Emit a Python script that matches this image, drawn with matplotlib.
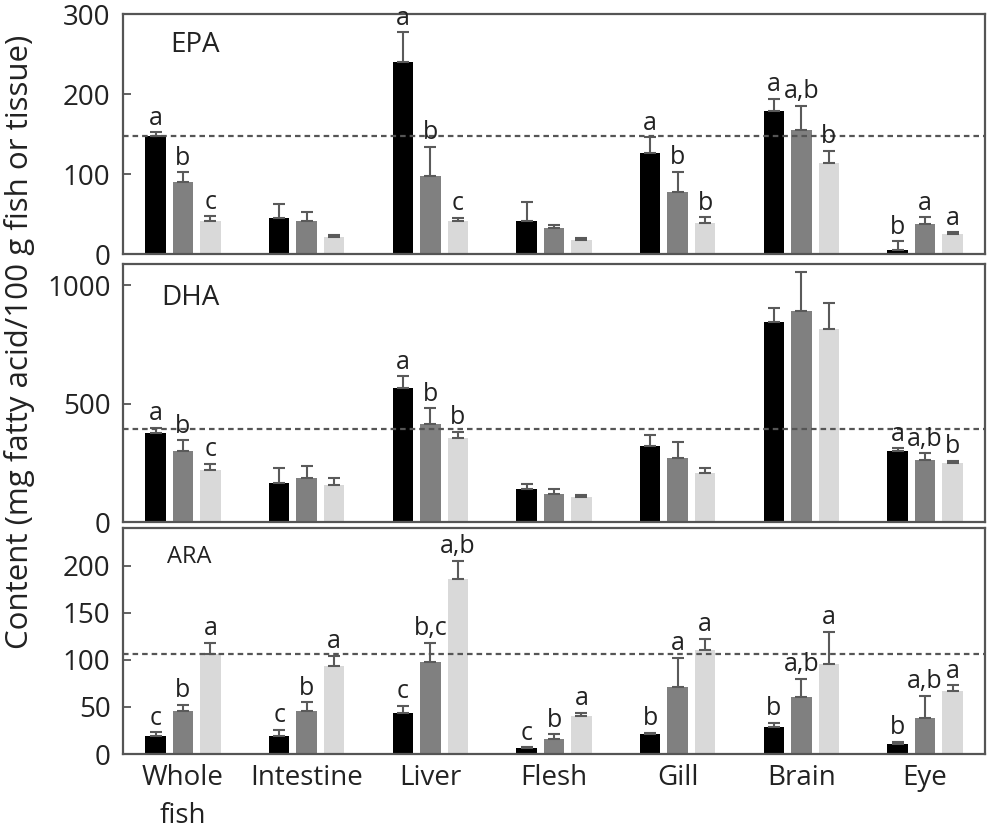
import numpy as np
import matplotlib.pyplot as plt

plt.rcParams['font.family'] = ['Open Sans', 'DejaVu Sans']

tissues = ['Whole\nfish', 'Intestine', 'Liver', 'Flesh', 'Gill', 'Brain', 'Eye']

# EPA
epa_black = [147, 45, 240, 41, 126, 179, 5]
epa_gray = [90, 41, 97, 32, 77, 155, 38]
epa_light = [41, 21, 41, 17, 39, 114, 25]
epa_black_err = [5, 18, 37, 24, 20, 15, 11]
epa_gray_err = [12, 11, 37, 4, 26, 30, 8]
epa_light_err = [6, 3, 4, 3, 7, 15, 2]
epa_black_lab = ['a', '', 'a', '', 'a', 'a', 'b']
epa_gray_lab = ['b', '', 'b', '', 'b', 'a,b', 'a']
epa_light_lab = ['c', '', 'c', '', 'b', 'b', 'a']
epa_ref = 147

# DHA
dha_black = [377, 163, 564, 140, 322, 845, 300]
dha_gray = [302, 187, 412, 117, 269, 892, 262]
dha_light = [219, 155, 353, 104, 205, 817, 248]
dha_black_err = [20, 66, 52, 20, 46, 57, 11]
dha_gray_err = [43, 49, 68, 21, 68, 164, 28]
dha_light_err = [26, 29, 28, 10, 24, 110, 11]
dha_black_lab = ['a', '', 'a', '', '', '', 'a']
dha_gray_lab = ['b', '', 'b', '', '', '', 'a,b']
dha_light_lab = ['c', '', 'b', '', '', '', 'b']
dha_ref = 394

# ARA
ara_black = [19, 19, 44, 6, 21, 29, 11]
ara_gray = [46, 46, 98, 16, 71, 61, 38]
ara_light = [106, 93, 186, 40, 110, 96, 67]
ara_black_err = [4, 7, 7, 1, 1.5, 4, 2]
ara_gray_err = [6, 9, 20, 5, 31, 19, 24]
ara_light_err = [12, 11, 19, 4, 12, 34, 6]
ara_black_lab = ['c', 'c', 'c', 'c', 'b', 'b', 'b']
ara_gray_lab = ['b', 'b', 'b,c', 'b', 'a', 'a,b', 'a,b']
ara_light_lab = ['a', 'a', 'a,b', 'a', 'a', 'a', 'a']
ara_ref = 106

colors = ['#000000', '#808080', '#d9d9d9']
offsets = [-0.222, 0, 0.222]
width = 0.165
x = np.arange(len(tissues))


def panel(ax, vals, errs, labs, ref, name, ymax, yticks, namesize, namex):
	for v, e, l, c, o in zip(vals, errs, labs, colors, offsets):
		e = np.array(e)
		ax.bar(x + o, v, width, color=c, yerr=[np.zeros_like(e), e],
			error_kw=dict(ecolor='#5a5a5a', elinewidth=1.5, capsize=4, capthick=1.5), zorder=2)
		for xi, vi, ei, li in zip(x, v, e, l):
			if li:
				ax.annotate(li, (xi + o, vi + ei), xytext=(0, 5.5), textcoords='offset points',
					ha='center', va='baseline', fontsize=18, color='#222222', zorder=4)
	ax.axhline(ref, color='#555555', lw=1.6, ls=(0, (2.5, 1.8)), zorder=3)
	ax.set_xlim(-0.485, 6.485)
	ax.set_ylim(0, ymax)
	ax.set_yticks(yticks)
	ax.tick_params(axis='y', direction='in', length=6, width=1.3, color='#555555',
		labelsize=20, pad=9, labelcolor='#222222')
	ax.tick_params(axis='x', length=0)
	for s in ax.spines.values():
		s.set_color('#555555')
		s.set_linewidth(1.6)
	ax.text(namex, 0.87, name, transform=ax.transAxes, fontsize=namesize, color='#222222',
		va='center', ha='left')


fig = plt.figure(figsize=(9.96, 8.34), dpi=100)
ax1 = fig.add_axes([0.1235, 0.6954, 0.8655, 0.2878])
ax2 = fig.add_axes([0.1235, 0.3741, 0.8655, 0.3094])
ax3 = fig.add_axes([0.1235, 0.0959, 0.8655, 0.2710])

panel(ax1, [epa_black, epa_gray, epa_light], [epa_black_err, epa_gray_err, epa_light_err],
	[epa_black_lab, epa_gray_lab, epa_light_lab], epa_ref, 'EPA', 300, [0, 100, 200, 300], 20, 0.055)
panel(ax2, [dha_black, dha_gray, dha_light], [dha_black_err, dha_gray_err, dha_light_err],
	[dha_black_lab, dha_gray_lab, dha_light_lab], dha_ref, 'DHA', 1090, [0, 500, 1000], 20, 0.044)
panel(ax3, [ara_black, ara_gray, ara_light], [ara_black_err, ara_gray_err, ara_light_err],
	[ara_black_lab, ara_gray_lab, ara_light_lab], ara_ref, 'ARA', 240, [0, 50, 100, 150, 200], 17, 0.051)

ax1.set_xticks(x)
ax1.set_xticklabels([])
ax2.set_xticks(x)
ax2.set_xticklabels([])
ax3.set_xticks(x)
ax3.set_xticklabels(tissues, fontsize=20, color='#222222', linespacing=1.5)
ax3.tick_params(axis='x', pad=7)

fig.text(0.02, 0.59, 'Content (mg fatty acid/100 g fish or tissue)', rotation=90,
	ha='center', va='center', fontsize=22.5, color='#222222')

plt.savefig('out.png', dpi=100)
